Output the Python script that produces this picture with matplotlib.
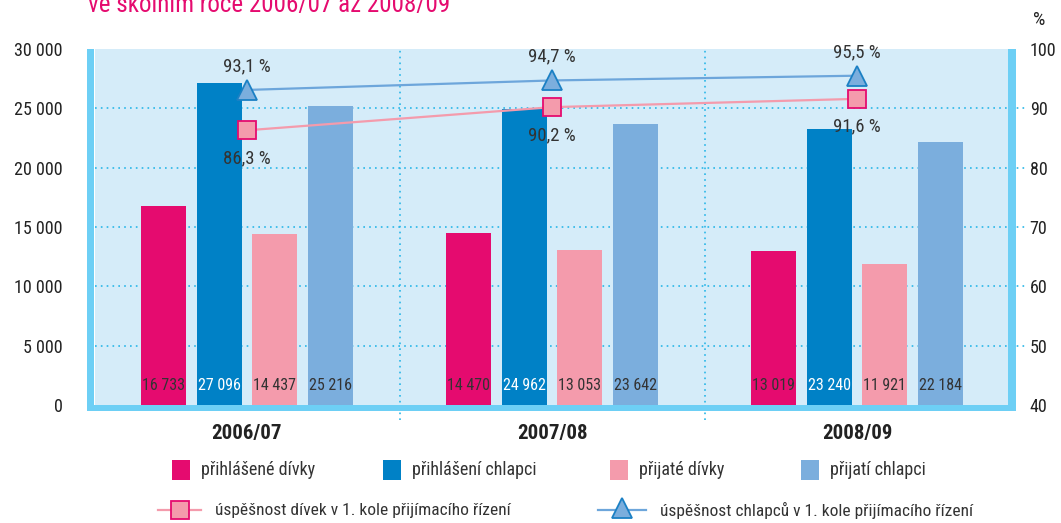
import matplotlib
matplotlib.use('Agg')
import matplotlib.pyplot as plt
from matplotlib import font_manager
from matplotlib.patches import Rectangle
from matplotlib.lines import Line2D

# data
roky = ['2006/07', '2007/08', '2008/09']
prihlasene_divky = [16733, 14470, 13019]
prihlaseni_chlapci = [27096, 24962, 23240]
prijate_divky = [14437, 13053, 11921]
prijati_chlapci = [25216, 23642, 22184]
uspesnost_divek = [86.3, 90.2, 91.6]
uspesnost_chlapcu = [93.1, 94.7, 95.5]
levy_ticks = [0, 5000, 10000, 15000, 20000, 25000, 30000]
pravy_ticks = [40, 50, 60, 70, 80, 90, 100]

# fonty - hledame uzky font
names = {f.name for f in font_manager.fontManager.ttflist}
if 'Liberation Sans Narrow' in names:
    FONT = 'Liberation Sans Narrow'
elif 'Roboto Condensed' in names:
    FONT = 'Roboto Condensed'
else:
    FONT = 'DejaVu Sans'
plt.rcParams['font.family'] = [FONT, 'DejaVu Sans']

W, H = 1061, 523
TXT = '#333333'
MAGENTA = '#E50B6F'
MODRA = '#0081C6'
RUZOVA = '#F49BAC'
SVETLEMODRA = '#7BAEDD'
GRID = '#29B6E8'
OKRAJ = '#6DCFF5'


def fx(px):
    return px / W


def fy(py):
    return 1 - py / H


def cislo(v):
    return f'{v:,}'.replace(',', ' ')


fig = plt.figure(figsize=(W / 100, H / 100), dpi=100)
ax = fig.add_axes([fx(94.5), fy(405), fx(915), (405 - 49) / H])
ax.set_facecolor('#D5ECF9')
ax.set_xlim(-0.5, 2.5)
ax.set_ylim(0, 30000)
for s in ax.spines.values():
    s.set_visible(False)

# mrizka
for t in levy_ticks[1:-1]:
    ax.axhline(t, xmin=0, xmax=(1026 - 94.5) / 915, color=GRID, lw=1.2,
               ls=(0, (1, 2.5)), clip_on=False, zorder=0.5)
for xv in [0.5, 1.5]:
    ax.axvline(xv, ymin=-15 / 356, ymax=1, color=GRID, lw=1.2,
               ls=(0, (1, 2.5)), clip_on=False, zorder=0.5)

# sloupce
sirka = 0.148
posun = 0.182
serie = [
    (prihlasene_divky, MAGENTA, TXT),
    (prihlaseni_chlapci, MODRA, 'white'),
    (prijate_divky, RUZOVA, TXT),
    (prijati_chlapci, SVETLEMODRA, TXT),
]
for i, (vals, barva, tbarva) in enumerate(serie):
    off = (i - 1.5) * posun
    xs = [k + off for k in range(len(roky))]
    ax.bar(xs, vals, width=sirka, color=barva, zorder=2)
    for x, v in zip(xs, vals):
        ax.text(x, 1650, cislo(v), ha='center', va='center', fontsize=11.5,
                color=tbarva, zorder=3)

ax.set_xticks(range(len(roky)))
ax.set_xticklabels(roky, fontsize=15, fontweight='bold', color='#222222')
ax.tick_params(axis='x', length=0, pad=14)
ax.set_yticks(levy_ticks)
ax.set_yticklabels([cislo(t) for t in levy_ticks], fontsize=13, color='#222222')
ax.tick_params(axis='y', length=0, pad=23)

# uspesnost - prava osa
ax2 = ax.twinx()
ax2.set_ylim(40, 100)
for s in ax2.spines.values():
    s.set_visible(False)
ax2.set_yticks(pravy_ticks)
ax2.set_yticklabels([str(t) for t in pravy_ticks], fontsize=13, color='#222222')
ax2.tick_params(axis='y', length=0, pad=14.5)

xs = range(len(roky))
ax2.plot(xs, uspesnost_divek, color=RUZOVA, lw=1.6, marker='s', ms=13,
         mfc=RUZOVA, mec=MAGENTA, mew=1.3, zorder=4)
ax2.plot(xs, uspesnost_chlapcu, color='#6DA6DB', lw=1.6, marker='^', ms=14,
         mfc=SVETLEMODRA, mec='#1B80C4', mew=1.3, zorder=4)
for x, v in zip(xs, uspesnost_divek):
    ax2.annotate(f'{v:.1f} %'.replace('.', ','), (x, v), xytext=(0, -20),
                 textcoords='offset points', ha='center', va='center',
                 fontsize=13.5, color=TXT, zorder=5)
for x, v in zip(xs, uspesnost_chlapcu):
    ax2.annotate(f'{v:.1f} %'.replace('.', ','), (x, v), xytext=(0, 17),
                 textcoords='offset points', ha='center', va='center',
                 fontsize=13.5, color=TXT, zorder=5)

fig.text(fx(1033), fy(20), '%', fontsize=14, color='#222222', va='center')

# okraje grafu
for (x0, y0, x1, y1) in [(87, 49, 94, 411), (1008, 49, 1016, 411), (87, 405, 1016, 411)]:
    fig.add_artist(Rectangle((fx(x0), fy(y1)), fx(x1 - x0), (y1 - y0) / H,
                             color=OKRAJ, lw=0, transform=fig.transFigure))

# titulek (oriznuty nahore)
fig.text(fx(88), fy(12), 've školním roce 2006/07 až 2008/09', fontsize=18,
         color=MAGENTA, va='baseline')

# legenda
leg1 = [('přihlášené dívky', MAGENTA, 172), ('přihlášení chlapci', MODRA, 383),
        ('přijaté dívky', RUZOVA, 610), ('přijatí chlapci', SVETLEMODRA, 801)]
for label, barva, px in leg1:
    fig.add_artist(Rectangle((fx(px), fy(480)), fx(18), 20 / H, color=barva,
                             lw=0, transform=fig.transFigure))
    fig.text(fx(px + 29), fy(470), label, fontsize=13, color=TXT, va='center')

fig.add_artist(Line2D([fx(158), fx(201)], [fy(510), fy(510)], color=RUZOVA,
                      lw=1.6, transform=fig.transFigure))
fig.add_artist(Line2D([fx(179.5)], [fy(510)], ls='none', marker='s', ms=13,
                      mfc=RUZOVA, mec=MAGENTA, mew=1.3, transform=fig.transFigure))
fig.text(fx(215), fy(510), 'úspěšnost dívek v 1. kole přijímacího řízení',
         fontsize=12.5, color=TXT, va='center')
fig.add_artist(Line2D([fx(598), fx(646)], [fy(510), fy(510)], color='#6DA6DB',
                      lw=1.6, transform=fig.transFigure))
fig.add_artist(Line2D([fx(622)], [fy(508)], ls='none', marker='^', ms=14,
                      mfc=SVETLEMODRA, mec='#1B80C4', mew=1.3,
                      transform=fig.transFigure))
fig.text(fx(660), fy(510), 'úspěšnost chlapců v 1. kole přijímacího řízení',
         fontsize=12.5, color=TXT, va='center')

fig.savefig('out.png', dpi=100)
